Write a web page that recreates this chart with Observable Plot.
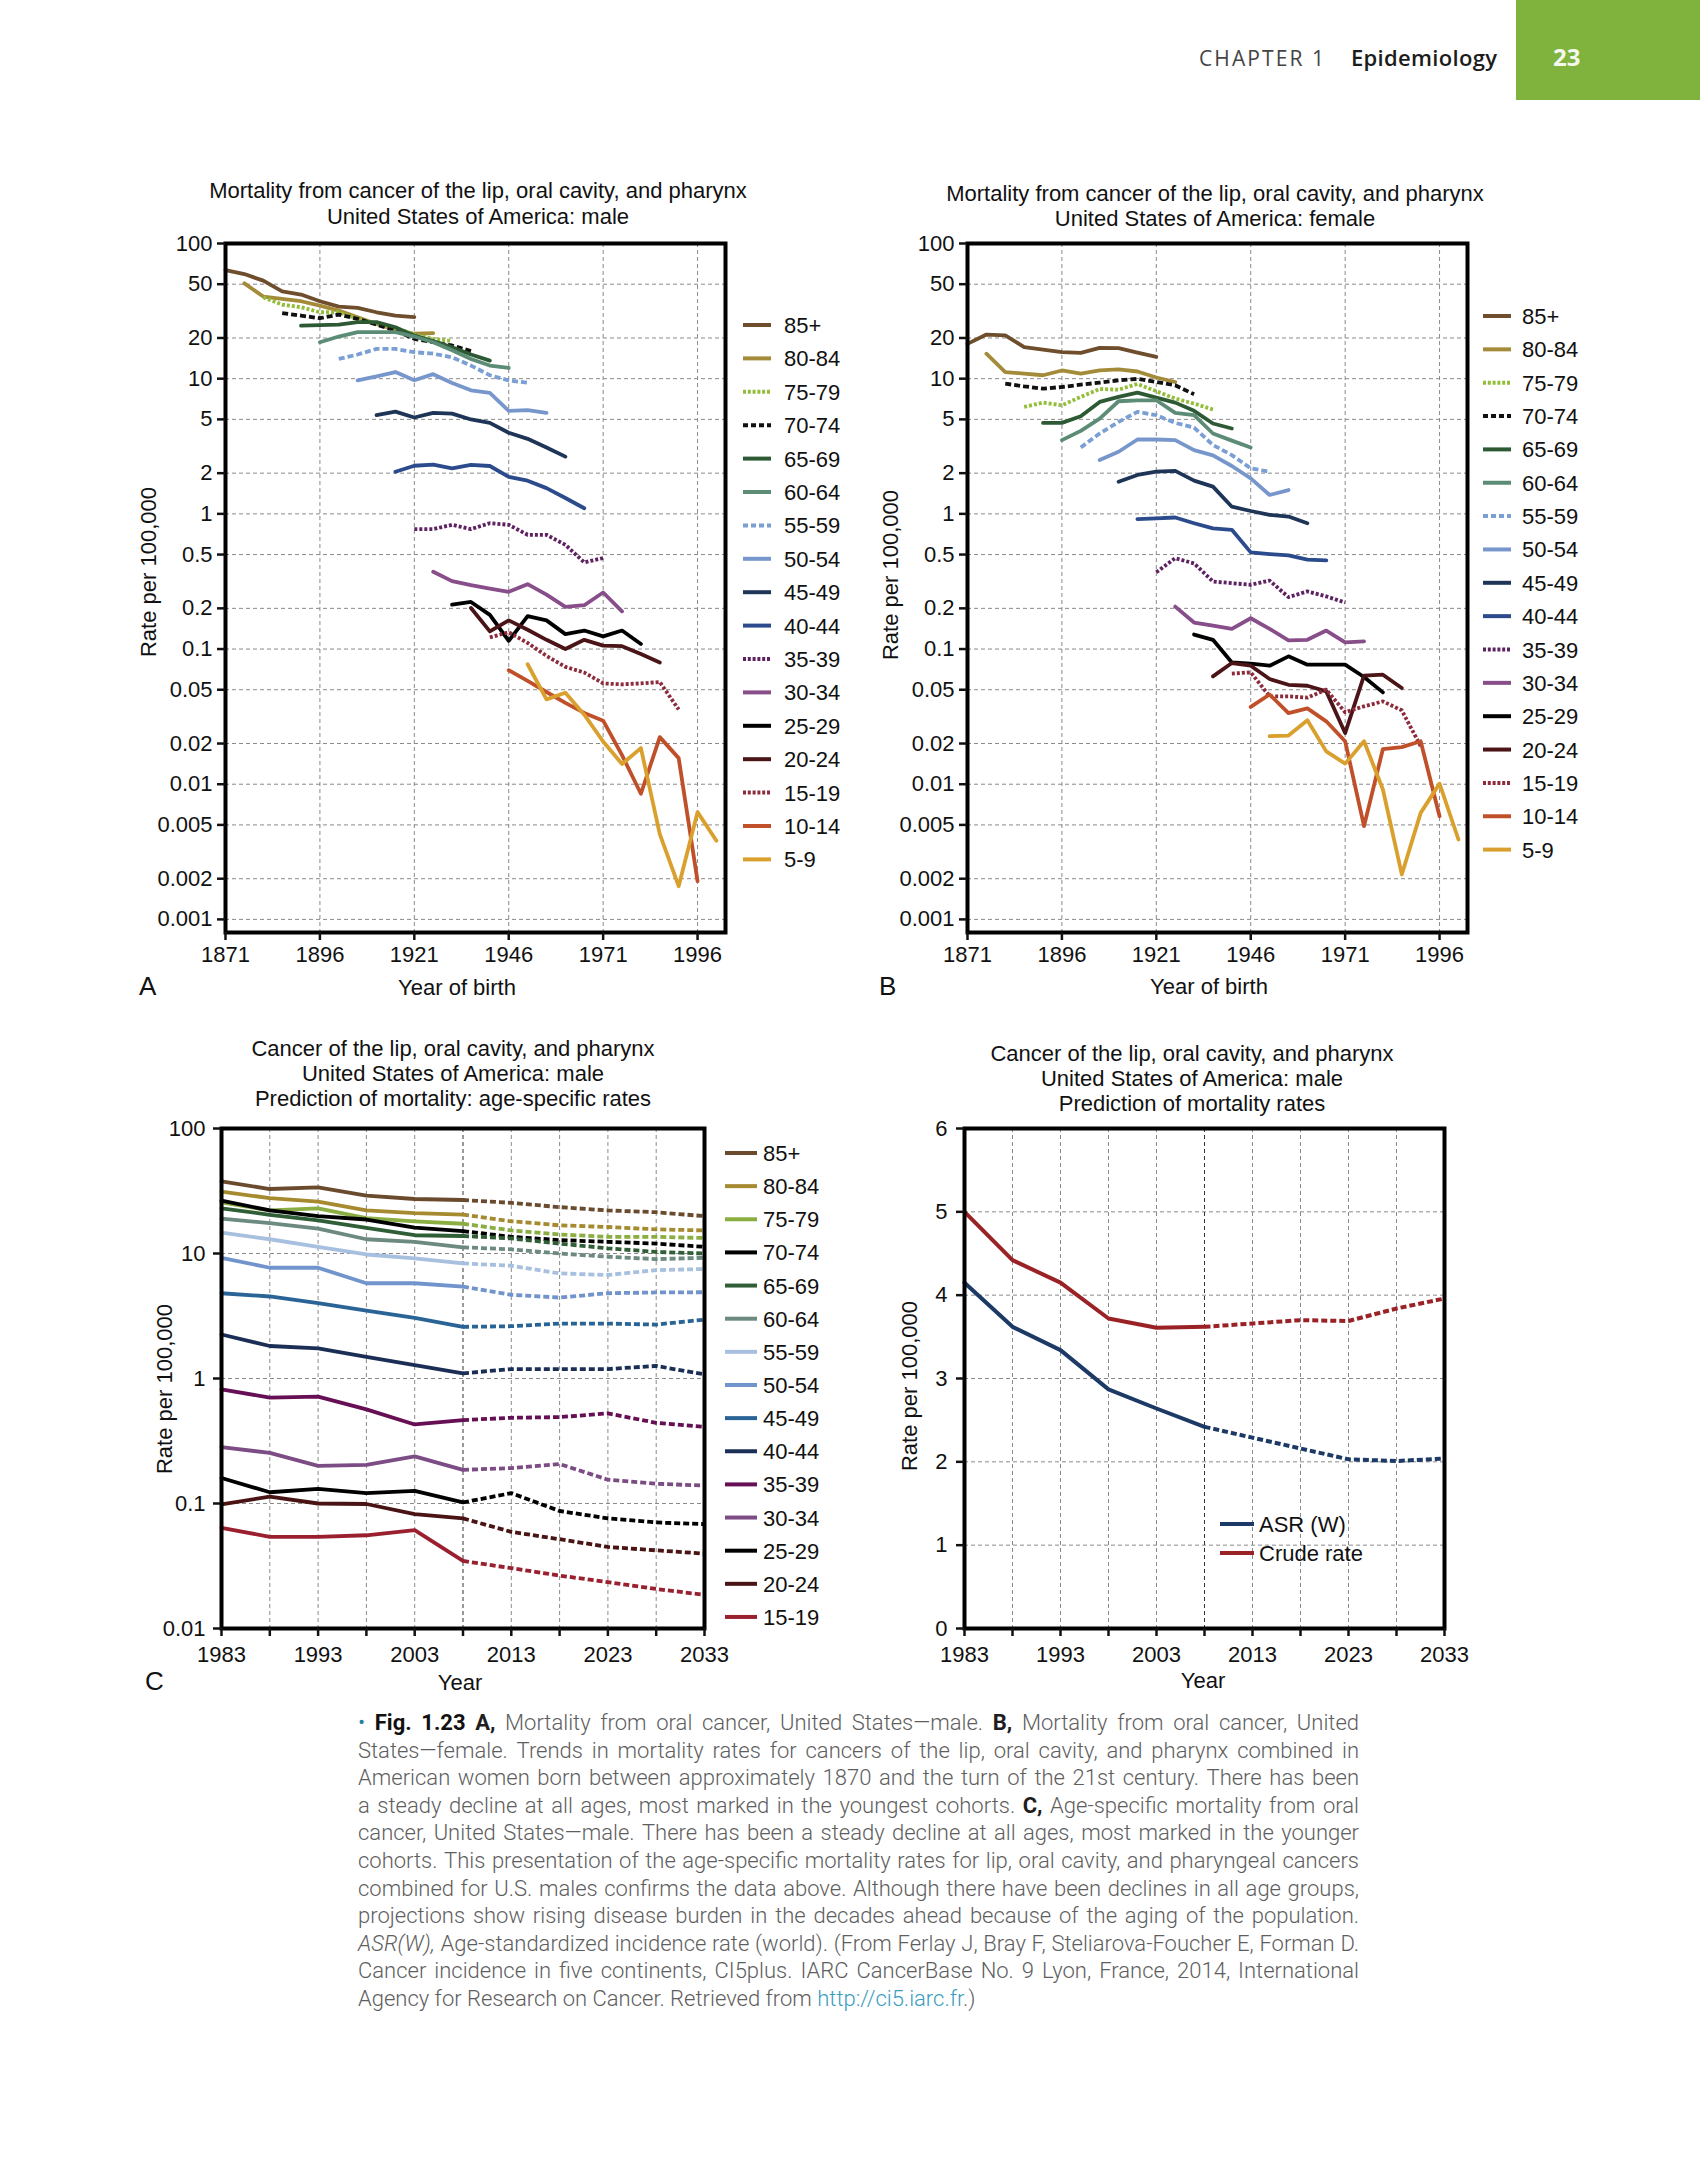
<!DOCTYPE html>
<html><head><meta charset="utf-8">
<script src="https://cdn.jsdelivr.net/npm/d3@7"></script>
<script src="https://cdn.jsdelivr.net/npm/@observablehq/plot@0.6"></script>
<style>
html,body{margin:0;padding:0;background:#fff;}
#page{position:relative;width:1700px;height:2175px;overflow:hidden;background:#fff;}
#page svg{max-width:none !important;}
</style></head>
<body><div id="page"></div>
<script>
// ---------------- DATA ----------------
const ageGroupsAB = ["85+","80-84","75-79","70-74","65-69","60-64","55-59","50-54","45-49","40-44","35-39","30-34","25-29","20-24","15-19","10-14","5-9"];
const cohortYears = [1871,1876,1881,1886,1891,1896,1901,1906,1911,1916,1921,1926,1931,1936,1941,1946,1951,1956,1961,1966,1971,1976,1981,1986,1991,1996,2001];
const maleStartYears   = [1871,1876,1881,1886,1891,1896,1901,1906,1911,1916,1921,1926,1931,1936,1941,1946,1951];
const femaleStartYears = [1871,1876,1886,1881,1891,1896,1901,1906,1911,1916,1921,1926,1931,1936,1941,1946,1951];

// A: male, rate per 100,000 by year of birth
const mA_85 = [63.6,59.4,53.1,44.3,41.9,37.4,34.1,33.4,31.0,29.3,28.5];
const mA_80 = [50.7,40.5,38.9,37.4,34.7,31.9,28.5,25.4,23.0,21.5,21.7];
const mA_75 = [40.0,35.3,33.8,31.0,31.0,27.7,25.4,23.8,21.2,19.7,19.0];
const mA_70 = [30.5,29.3,28.0,29.8,27.7,25.1,22.7,19.7,18.6,17.6,16.0];
const mA_65 = [24.7,24.9,25.1,26.2,26.2,24.0,20.8,19.0,17.1,15.1,13.6];
const mA_60 = [18.6,20.5,22.1,22.1,22.1,20.5,18.6,16.2,14.0,12.5,12.0];
const mA_55 = [14.0,15.1,16.6,16.6,15.7,15.3,14.4,12.5,10.6,9.7,9.35];
const mA_50 = [9.73,10.4,11.2,9.73,10.8,9.3,8.2,7.85,5.78,5.85,5.58];
const mA_45 = [5.37,5.71,5.16,5.58,5.52,4.99,4.71,3.98,3.59,3.10,2.65];
const mA_40 = [2.05,2.27,2.31,2.17,2.30,2.26,1.88,1.76,1.55,1.31,1.10];
const mA_35 = [0.771,0.771,0.830,0.771,0.853,0.830,0.700,0.700,0.590,0.438,0.471];
const mA_30 = [0.373,0.318,0.297,0.280,0.265,0.302,0.253,0.205,0.211,0.262,0.190];
const mA_25 = [0.213,0.223,0.179,0.115,0.175,0.163,0.129,0.137,0.124,0.137,0.109];
const mA_20 = [0.201,0.135,0.163,0.139,0.117,0.100,0.117,0.106,0.105,0.092,0.0795];
const mA_15 = [0.122,0.133,0.111,0.089,0.0738,0.0670,0.0557,0.0548,0.0557,0.0570,0.0357];
const mA_10 = [0.0697,0.0581,0.0481,0.0400,0.0337,0.0295,0.0164,0.0085,0.0223,0.0156,0.00192];
const mA_05 = [0.0772,0.0424,0.0475,0.0327,0.0207,0.0141,0.0185,0.00428,0.00176,0.00622,0.00382];

// B: female
const fB_85 = [18.1,21.2,20.9,17.1,16.4,15.7,15.5,16.9,16.8,15.6,14.5];
const fB_80 = [15.3,11.2,10.9,10.6,11.5,10.9,11.5,11.7,11.3,10.2,9.45];
const fB_75 = [6.18,6.65,6.36,7.33,8.39,8.29,9.14,8.08,7.13,6.54,5.91];
const fB_70 = [9.19,8.77,8.44,8.68,9.03,9.35,9.73,9.96,9.45,8.93,7.67];
const fB_65 = [4.71,4.71,5.27,6.73,7.33,7.89,7.24,6.65,5.78,4.66,4.28];
const fB_60 = [3.51,4.11,5.07,6.81,6.92,6.92,5.58,5.37,3.93,3.48,3.10];
const fB_55 = [3.10,3.93,4.79,5.68,5.37,4.71,4.35,3.23,2.72,2.17,2.05];
const fB_50 = [2.50,2.88,3.55,3.55,3.51,2.96,2.71,2.26,1.83,1.38,1.50];
const fB_45 = [1.73,1.94,2.05,2.08,1.76,1.59,1.13,1.05,0.984,0.955,0.853];
const fB_40 = [0.914,0.925,0.940,0.853,0.780,0.762,0.519,0.504,0.493,0.458,0.453];
const fB_35 = [0.37,0.47,0.43,0.316,0.307,0.299,0.321,0.242,0.267,0.245,0.221];
const fB_30 = [0.206,0.157,0.149,0.141,0.169,0.141,0.116,0.117,0.137,0.112,0.114];
const fB_25 = [0.128,0.117,0.0796,0.0779,0.0753,0.0883,0.0766,0.0766,0.0766,0.0621,0.0478];
const fB_20 = [0.0628,0.0788,0.0753,0.0600,0.0544,0.0535,0.0486,0.0239,0.0636,0.0646,0.0515];
const fB_15 = [0.0658,0.0673,0.0447,0.0447,0.0437,0.0501,0.0341,0.0377,0.0410,0.0352,0.0191];
const fB_10 = [0.0373,0.0461,0.0336,0.0364,0.0292,0.0208,0.0049,0.0182,0.0188,0.0208,0.0058];
const fB_05 = [0.0227,0.0229,0.0297,0.0175,0.0142,0.0208,0.00914,0.00215,0.00614,0.0101,0.0039];

// C: male age-specific, observed 1983-2008, predicted 2008-2033
const ageGroupsC = ["85+","80-84","75-79","70-74","65-69","60-64","55-59","50-54","45-49","40-44","35-39","30-34","25-29","20-24","15-19"];
const periodYears = [1983,1988,1993,1998,2003,2008,2013,2018,2023,2028,2033];
const lastObservedYear = 2008;
const c_85 = [37.8,32.8,33.8,29.0,27.3,26.8,25.4,23.5,22.1,21.4,19.9];
const c_80 = [31.3,27.7,26.0,22.1,21.0,20.5,18.1,16.8,16.3,15.6,15.3];
const c_75 = [25.7,22.1,23.0,19.2,18.1,17.3,15.3,14.2,13.6,13.6,13.3];
const c_70 = [26.5,22.1,19.9,18.7,16.1,15.1,13.6,12.8,12.4,12.0,11.3];
const c_65 = [23.0,20.4,18.4,16.0,14.0,13.8,13.2,12.0,11.0,10.3,10.0];
const c_60 = [19.0,17.5,15.8,13.0,12.4,11.2,10.8,10.0,9.42,9.02,9.24];
const c_55 = [14.7,13.0,11.3,9.82,9.13,8.33,7.98,6.93,6.73,7.37,7.51];
const c_50 = [9.24,7.69,7.69,5.78,5.78,5.44,4.67,4.44,4.81,4.88,4.90];
const c_45 = [4.81,4.53,4.01,3.49,3.05,2.59,2.62,2.75,2.75,2.70,2.96];
const c_40 = [2.25,1.82,1.74,1.49,1.28,1.10,1.19,1.19,1.19,1.26,1.08];
const c_35 = [0.820,0.703,0.716,0.566,0.429,0.465,0.485,0.491,0.526,0.442,0.411];
const c_30 = [0.283,0.254,0.200,0.204,0.238,0.186,0.192,0.207,0.155,0.144,0.139];
const c_25 = [0.160,0.123,0.131,0.121,0.126,0.102,0.121,0.0871,0.0760,0.0705,0.0684];
const c_20 = [0.0985,0.1135,0.100,0.0991,0.0822,0.0760,0.0593,0.0518,0.0449,0.0422,0.0397];
const c_15 = [0.0639,0.0541,0.0541,0.0557,0.0612,0.0347,0.0304,0.0265,0.0235,0.0207,0.0186];

// D: male summary rates
const d_asr   = [4.15,3.62,3.34,2.87,2.64,2.42,2.29,2.16,2.03,2.01,2.04];
const d_crude = [5.00,4.42,4.15,3.72,3.61,3.62,3.66,3.70,3.69,3.84,3.96];
const dSeriesNames = ["ASR (W)","Crude rate"];

// tick labels
const cohortTicks = [1871,1896,1921,1946,1971,1996];
const cohortRateTicks = [100,50,20,10,5,2,1,0.5,0.2,0.1,0.05,0.02,0.01,0.005,0.002,0.001];
const periodTicks = [1983,1988,1993,1998,2003,2008,2013,2018,2023,2028,2033];
const periodRateTicks = [100,10,1,0.1,0.01];
const summaryRateTicks = [0,1,2,3,4,5,6];

// ---------------- STYLES ----------------
const colorsAB = ["#6f4e2d","#a38b3a","#94bd3a","#111111","#2d5a34","#5c8c76","#7b9fd5","#7797cc","#1e3558","#2b4b8c","#5e2262","#874e8a","#000000","#4b1518","#8b2b3b","#c0502a","#d9a02e"];
const dashAB   = [null,null,"3,2","6,3",null,null,"6,3",null,null,null,"3,2",null,null,null,"3,2",null,null];
const colorsC  = ["#6b4b2e","#a58a30","#8aae42","#000000","#2f5e37","#6c8a80","#a8c0e0","#7294cc","#2a6496","#1b2f56","#660f54","#7c4c84","#000000","#4a1414","#9a2030"];
const colorsD  = ["#1d3a66","#9a2226"];
const CF = "Liberation Sans, Arial, Helvetica, sans-serif";

// ---------------- BUILD TABLES ----------------
function cohortRows(arrays, starts) {
  const rows = [];
  arrays.forEach((vals, i) => {
    const s = cohortYears.indexOf(starts[i]);
    vals.forEach((v, j) => rows.push({g: ageGroupsAB[i], i, year: cohortYears[s + j], v}));
  });
  return rows;
}
const maleRows = cohortRows([mA_85,mA_80,mA_75,mA_70,mA_65,mA_60,mA_55,mA_50,mA_45,mA_40,mA_35,mA_30,mA_25,mA_20,mA_15,mA_10,mA_05], maleStartYears);
const femaleRows = cohortRows([fB_85,fB_80,fB_75,fB_70,fB_65,fB_60,fB_55,fB_50,fB_45,fB_40,fB_35,fB_30,fB_25,fB_20,fB_15,fB_10,fB_05], femaleStartYears);
const cRows = [];
[c_85,c_80,c_75,c_70,c_65,c_60,c_55,c_50,c_45,c_40,c_35,c_30,c_25,c_20,c_15].forEach((vals,i)=>vals.forEach((v,j)=>cRows.push({g: ageGroupsC[i], i, year: periodYears[j], v})));
const dRows = [];
[d_asr, d_crude].forEach((vals,i)=>vals.forEach((v,j)=>dRows.push({g: dSeriesNames[i], i, year: periodYears[j], v})));

// ---------------- CHARTS ----------------
const page = document.getElementById("page");
const hasAxis = typeof Plot.axisX === "function";

function makeChart(o) {
  const grid = {stroke: "#8a8a8a", strokeWidth: 1, strokeDasharray: "4,3"};
  const marks = [
    Plot.ruleX(o.gridX, grid),
    Plot.ruleY(o.gridY, grid)
  ];
  if (o.gridXDark) marks.push(Plot.ruleX(o.gridXDark, {...grid, stroke: "#333"}));
  marks.push(...o.lines);
  marks.push(Plot.frame({stroke: "#000", strokeWidth: 4}));
  const xOpt = {domain: o.xDomain, label: null};
  const yOpt = {type: o.yType, domain: o.yDomain, label: null};
  if (hasAxis) {
    marks.push(Plot.axisX({ticks: o.xTicks, tickFormat: o.xFmt, tickSize: 8, tickPadding: o.xPad, fontSize: 22, strokeWidth: 2.5, label: null}));
    marks.push(Plot.axisY({ticks: o.yTicks, tickFormat: () => "", tickSize: 8, tickPadding: o.yPad, fontSize: 22, strokeWidth: 2.5, label: null}));
  } else {
    Object.assign(xOpt, {ticks: o.xTicks, tickFormat: o.xFmt, tickSize: 8, tickPadding: o.xPad});
    Object.assign(yOpt, {ticks: o.yTicks, tickFormat: () => "", tickSize: 8, tickPadding: o.yPad});
  }
  // y tick labels as a text mark (keeps every label on log scales)
  marks.push(Plot.text(o.yTicks, {
    y: d => d, text: d => String(d), frameAnchor: "left", textAnchor: "end",
    dx: -(8 + o.yPad), fontSize: 22, fill: "#111"
  }));
  const svg = Plot.plot({
    width: o.width, height: o.height,
    marginLeft: o.mL, marginRight: o.mR, marginTop: o.mT, marginBottom: o.mB,
    x: xOpt, y: yOpt,
    style: {fontFamily: CF, fontSize: "22px", color: "#111", background: "transparent", overflow: "visible"},
    marks
  });
  svg.style.position = "absolute";
  svg.style.left = o.left + "px";
  svg.style.top = o.top + "px";
  svg.style.maxWidth = "none";
  page.appendChild(svg);
}

function cohortLines(rows) {
  return ageGroupsAB.map((g, i) => Plot.line(rows.filter(d => d.g === g), {
    x: "year", y: "v", stroke: colorsAB[i], strokeWidth: 3.8,
    strokeDasharray: dashAB[i] || undefined,
    strokeLinecap: dashAB[i] ? "butt" : "round", strokeLinejoin: "round"
  }));
}
function periodLines(rows, names, colors, width) {
  const out = [];
  names.forEach((g, i) => {
    const r = rows.filter(d => d.g === g);
    out.push(Plot.line(r.filter(d => d.year <= lastObservedYear), {x: "year", y: "v", stroke: colors[i], strokeWidth: width, strokeLinejoin: "round"}));
    out.push(Plot.line(r.filter(d => d.year >= lastObservedYear), {x: "year", y: "v", stroke: colors[i], strokeWidth: width, strokeDasharray: "6,3", strokeLinecap: "butt"}));
  });
  return out;
}
const fmtNum = d => String(d);
const fmtDecade = d => ((d - 1983) % 10 === 0 ? String(d) : "");

const cohortCommon = {
  width: 620, height: 780, mL: 105, mR: 15, mT: 15, mB: 76,
  xDomain: [1871, 2003.4], yType: "log", yDomain: [0.0008, 100],
  xTicks: cohortTicks, yTicks: cohortRateTicks, xFmt: fmtNum,
  gridX: cohortTicks.slice(1), gridY: cohortRateTicks.slice(1), xPad: 6, yPad: 5
};
makeChart({...cohortCommon, left: 120, top: 228, lines: cohortLines(maleRows)});
makeChart({...cohortCommon, left: 862, top: 228, lines: cohortLines(femaleRows)});

const periodGridX = periodTicks.filter(y => y !== 1983 && y !== 2033 && y !== lastObservedYear);
makeChart({
  left: 116, top: 1113, width: 603, height: 580, mL: 105, mR: 15, mT: 15, mB: 65,
  xDomain: [1983, 2033], yType: "log", yDomain: [0.01, 100],
  xTicks: periodTicks, yTicks: periodRateTicks, xFmt: fmtDecade,
  gridX: periodGridX, gridXDark: [lastObservedYear], gridY: [10, 1, 0.1], xPad: 10, yPad: 8,
  lines: periodLines(cRows, ageGroupsC, colorsC, 3.8)
});
makeChart({
  left: 859, top: 1113, width: 600, height: 580, mL: 105, mR: 15, mT: 15, mB: 65,
  xDomain: [1983, 2033], yType: "linear", yDomain: [0, 6],
  xTicks: periodTicks, yTicks: summaryRateTicks, xFmt: fmtDecade,
  gridX: periodGridX, gridXDark: [lastObservedYear], gridY: [1, 2, 3, 4, 5], xPad: 10, yPad: 9,
  lines: periodLines(dRows, dSeriesNames, colorsD, 4)
});

// ---------------- OVERLAY TEXT ----------------
const ov = d3.select(page).append("svg").attr("width", 1700).attr("height", 2175)
  .style("position", "absolute").style("left", "0px").style("top", "0px").style("pointer-events", "none");

function T(x, y, str, o = {}) {
  const t = ov.append("text").attr("x", x).attr("y", y).text(str)
    .attr("font-family", o.family || CF).attr("font-size", o.size || 22)
    .attr("fill", o.fill || "#111").attr("text-anchor", o.anchor || "start");
  if (o.weight) t.attr("font-weight", o.weight);
  if (o.rotate) t.attr("transform", `rotate(${o.rotate},${x},${y})`);
  if (o.len) t.attr("textLength", o.len).attr("lengthAdjust", "spacing");
  if (o.ls) t.attr("letter-spacing", o.ls);
  return t;
}

// header
ov.append("rect").attr("x", 1516).attr("y", 0).attr("width", 184).attr("height", 100).attr("fill", "#7fb33d");
T(1199, 66, "CHAPTER 1", {family: "Open Sans, Lato, sans-serif", size: 21, weight: 500, fill: "#444", len: 125});
T(1351, 66, "Epidemiology", {family: "Open Sans, Lato, sans-serif", size: 22, weight: 600, fill: "#1c1c1c", len: 146});
T(1553, 66, "23", {family: "Open Sans, Lato, sans-serif", size: 24, weight: 700, fill: "#f4f8ee"});

// titles
const titleA1 = "Mortality from cancer of the lip, oral cavity, and pharynx";
T(478, 198, titleA1, {anchor: "middle"});
T(478, 223.5, "United States of America: male", {anchor: "middle"});
T(1215, 201, titleA1, {anchor: "middle"});
T(1215, 226, "United States of America: female", {anchor: "middle"});
T(453, 1056, "Cancer of the lip, oral cavity, and pharynx", {anchor: "middle"});
T(453, 1081, "United States of America: male", {anchor: "middle"});
T(453, 1106, "Prediction of mortality: age-specific rates", {anchor: "middle"});
T(1192, 1061, "Cancer of the lip, oral cavity, and pharynx", {anchor: "middle"});
T(1192, 1086, "United States of America: male", {anchor: "middle"});
T(1192, 1111, "Prediction of mortality rates", {anchor: "middle"});

// axis titles
T(457, 995, "Year of birth", {anchor: "middle"});
T(1209, 994, "Year of birth", {anchor: "middle"});
T(460, 1690, "Year", {anchor: "middle"});
T(1203, 1688, "Year", {anchor: "middle"});
T(156, 572, "Rate per 100,000", {anchor: "middle", rotate: -90});
T(898, 575, "Rate per 100,000", {anchor: "middle", rotate: -90});
T(172, 1389, "Rate per 100,000", {anchor: "middle", rotate: -90});
T(917, 1386, "Rate per 100,000", {anchor: "middle", rotate: -90});

// panel letters
T(139, 995, "A", {size: 26});
T(879, 995, "B", {size: 26});
T(145, 1690, "C", {size: 26});

// legends
function legend(labels, colors, dashes, x1, x2, tx, y0, dy) {
  labels.forEach((lab, i) => {
    const y = y0 + i * dy;
    const l = ov.append("line").attr("x1", x1).attr("x2", x2).attr("y1", y).attr("y2", y)
      .attr("stroke", colors[i]).attr("stroke-width", 4);
    if (dashes && dashes[i]) l.attr("stroke-dasharray", dashes[i] === "3,2" ? "3,1.8" : "5,3");
    T(tx, y + 8, lab);
  });
}
legend(ageGroupsAB, colorsAB, dashAB, 743, 771, 784, 325, 33.4);
legend(ageGroupsAB, colorsAB, dashAB, 1483, 1511, 1522, 316, 33.35);
legend(ageGroupsC, colorsC, null, 725, 757, 763, 1153, 33.14);
legend(dSeriesNames, colorsD, null, 1220, 1254, 1259, 1524, 29);

// ---------------- CAPTION ----------------
const captionLines = [
  [["•","bul"],[" "],["Fig. 1.23","fig"],[" "],["A,","b"],[" Mortality from oral cancer, United States—male. "],["B,","b"],[" Mortality from oral cancer, United"]],
  [["States—female. Trends in mortality rates for cancers of the lip, oral cavity, and pharynx combined in"]],
  [["American women born between approximately 1870 and the turn of the 21st century. There has been"]],
  [["a steady decline at all ages, most marked in the youngest cohorts. "],["C,","b"],[" Age-specific mortality from oral"]],
  [["cancer, United States—male. There has been a steady decline at all ages, most marked in the younger"]],
  [["cohorts. This presentation of the age-specific mortality rates for lip, oral cavity, and pharyngeal cancers"]],
  [["combined for U.S. males confirms the data above. Although there have been declines in all age groups,"]],
  [["projections show rising disease burden in the decades ahead because of the aging of the population."]],
  [["ASR(W),","i"],[" Age-standardized incidence rate (world). (From Ferlay J, Bray F, Steliarova-Foucher E, Forman D."]],
  [["Cancer incidence in five continents, CI5plus. IARC CancerBase No. 9 Lyon, France, 2014, International"]],
  [["Agency for Research on Cancer. Retrieved from "],["http://ci5.iarc.fr","url"],[".)"]]
];
const capFont = "'Liberation Sans Narrow', 'Arial Narrow', Roboto, 'Liberation Sans', sans-serif";
const capStyle = {
  "": {fill: "#5e5e5e"}, bul: {fill: "#2b7f9e"}, fig: {fill: "#111", weight: 700},
  b: {fill: "#1e1e1e", weight: 700}, i: {fill: "#5e5e5e", italic: true}, url: {fill: "#3a9cc0"}
};
const capG = ov.append("g").attr("font-family", capFont).attr("font-size", 22).attr("font-weight", 300);
function layoutCaption() {
  capG.selectAll("*").remove();
  const x0 = 358, target = 1001;
  const probe = capG.append("text").attr("xml:space", "preserve");
  const measure = s => { probe.text(s); return probe.node().getComputedTextLength(); };
  const spaceW = measure("a a") - measure("aa");
  probe.remove();
  captionLines.forEach((segs, li) => {
    const baseline = 1730 + li * 27.6;
    const words = []; let cur = [];
    segs.forEach(([txt, cls = ""]) => {
      const parts = txt.split(" ");
      parts.forEach((p, k) => {
        if (k > 0) { if (cur.length) words.push(cur); cur = []; }
        if (p.length) cur.push([p, cls]);
      });
    });
    if (cur.length) words.push(cur);
    const g = capG.append("g");
    const nodes = words.map(w => {
      const t = g.append("text").attr("y", baseline);
      w.forEach(([p, cls]) => {
        const st = capStyle[cls];
        const ts = t.append("tspan").text(p).attr("fill", st.fill);
        if (st.weight) ts.attr("font-weight", st.weight);
        if (st.italic) ts.attr("font-style", "italic");
      });
      return t;
    });
    const widths = nodes.map(n => n.node().getComputedTextLength());
    const sum = d3.sum(widths);
    const last = li === captionLines.length - 1;
    let gap = spaceW, scale = 1;
    if (!last) {
      gap = (target - sum) / (words.length - 1);
      if (gap < spaceW * 0.8) { gap = spaceW; scale = target / (sum + gap * (words.length - 1)); }
    }
    let x = x0;
    nodes.forEach((n, k) => { n.attr("x", x); x += widths[k] + gap; });
    if (scale !== 1) g.attr("transform", `translate(${x0},0) scale(${scale},1) translate(${-x0},0)`);
  });
}
layoutCaption();
if (document.fonts && document.fonts.ready) document.fonts.ready.then(layoutCaption);
</script>
</body></html>
